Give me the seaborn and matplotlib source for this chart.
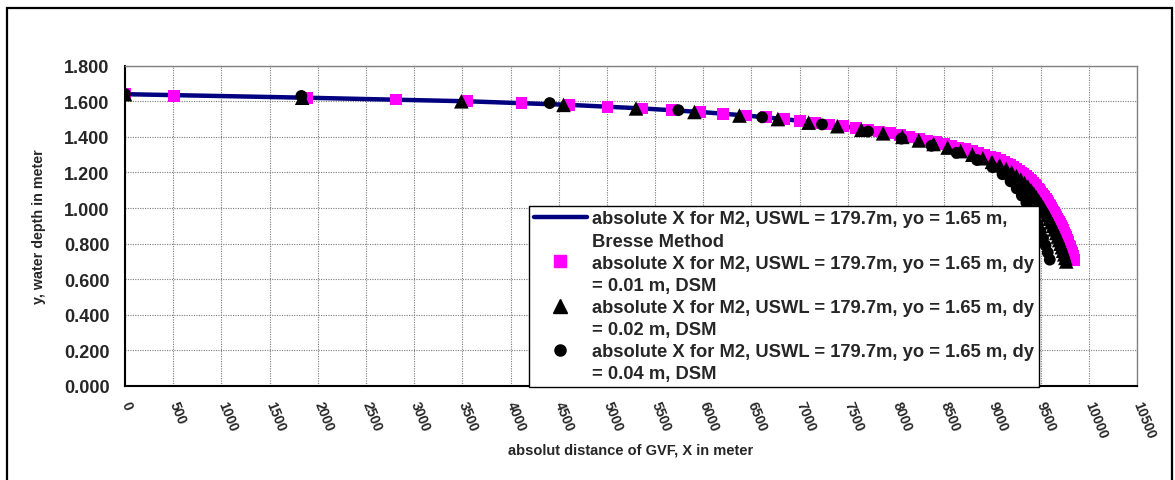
import matplotlib
matplotlib.use("Agg")
import matplotlib.pyplot as plt
import seaborn as sns
from matplotlib.lines import Line2D
from matplotlib.patches import Rectangle

# ---- Bresse method profile (depth y in m, absolute distance X in m) ----
bresse_y = [1.64, 1.62, 1.60, 1.58, 1.56, 1.54, 1.52, 1.50, 1.48, 1.46,
            1.44, 1.42, 1.40, 1.38, 1.36, 1.34, 1.32, 1.30, 1.28, 1.26,
            1.24, 1.22, 1.20, 1.18, 1.16, 1.14, 1.12, 1.10, 1.08, 1.06,
            1.04, 1.02, 1.00, 0.98, 0.96, 0.94, 0.92, 0.90, 0.88, 0.86,
            0.84, 0.82, 0.80, 0.78, 0.76, 0.74, 0.72, 0.71]
bresse_x = [0, 1888, 3552, 4608, 5361, 5970, 6445, 6836, 7162, 7450,
            7706, 7934, 8140, 8327, 8495, 8648, 8789, 8918, 9029, 9116,
            9187, 9247, 9299, 9345, 9386, 9423, 9456, 9485, 9513, 9539,
            9564, 9588, 9610, 9632, 9653, 9673, 9693, 9711, 9729, 9745,
            9761, 9776, 9790, 9804, 9817, 9829, 9841, 9846]

# ---- Direct step method, dy = 0.01 m ----
dsm01_y = [1.64, 1.63, 1.62, 1.61, 1.60, 1.59, 1.58, 1.57, 1.56, 1.55,
           1.54, 1.53, 1.52, 1.51, 1.50, 1.49, 1.48, 1.47, 1.46, 1.45,
           1.44, 1.43, 1.42, 1.41, 1.40, 1.39, 1.38, 1.37, 1.36, 1.35,
           1.34, 1.33, 1.32, 1.31, 1.30, 1.29, 1.28, 1.27, 1.26, 1.25,
           1.24, 1.23, 1.22, 1.21, 1.20, 1.19, 1.18, 1.17, 1.16, 1.15,
           1.14, 1.13, 1.12, 1.11, 1.10, 1.09, 1.08, 1.07, 1.06, 1.05,
           1.04, 1.03, 1.02, 1.01, 1.00, 0.99, 0.98, 0.97, 0.96, 0.95,
           0.94, 0.93, 0.92, 0.91, 0.90, 0.89, 0.88, 0.87, 0.86, 0.85,
           0.84, 0.83, 0.82, 0.81, 0.80, 0.79, 0.78, 0.77, 0.76, 0.75,
           0.74, 0.73, 0.72, 0.71]
dsm01_x = [0, 510, 1888, 2814, 3552, 4113, 4608, 5007, 5361, 5673,
           5970, 6203, 6445, 6650, 6836, 7005, 7162, 7310, 7450, 7582,
           7706, 7823, 7934, 8040, 8140, 8236, 8327, 8413, 8495, 8573,
           8648, 8720, 8789, 8855, 8918, 8977, 9029, 9075, 9116, 9153,
           9187, 9218, 9247, 9274, 9299, 9323, 9345, 9366, 9386, 9405,
           9423, 9440, 9456, 9471, 9485, 9499, 9513, 9526, 9539, 9552,
           9564, 9576, 9588, 9599, 9610, 9621, 9632, 9643, 9653, 9663,
           9673, 9683, 9693, 9702, 9711, 9720, 9729, 9737, 9745, 9753,
           9761, 9769, 9776, 9783, 9790, 9797, 9804, 9811, 9817, 9823,
           9829, 9835, 9841, 9846]

# ---- Direct step method, dy = 0.02 m ----
dsm02_y = [1.64, 1.62, 1.60, 1.58, 1.56, 1.54, 1.52, 1.50, 1.48, 1.46,
           1.44, 1.42, 1.40, 1.38, 1.36, 1.34, 1.32, 1.30, 1.28, 1.26,
           1.24, 1.22, 1.20, 1.18, 1.16, 1.14, 1.12, 1.10, 1.08, 1.06,
           1.04, 1.02, 1.00, 0.98, 0.96, 0.94, 0.92, 0.90, 0.88, 0.86,
           0.84, 0.82, 0.80, 0.78, 0.76, 0.74, 0.72, 0.70]
dsm02_x = [0, 1838, 3490, 4550, 5302, 5908, 6375, 6774, 7093, 7391,
           7640, 7866, 8066, 8236, 8390, 8535, 8670, 8792, 8900, 8995,
           9075, 9143, 9200, 9250, 9294, 9333, 9368, 9400, 9429, 9456,
           9481, 9505, 9528, 9550, 9571, 9591, 9610, 9628, 9645, 9662,
           9678, 9693, 9707, 9720, 9733, 9745, 9756, 9766]

# ---- Direct step method, dy = 0.04 m ----
dsm04_y = [1.64, 1.63, 1.59, 1.55, 1.51, 1.47, 1.43, 1.39, 1.35, 1.31,
           1.27, 1.23, 1.19, 1.15, 1.11, 1.07, 1.03, 0.99, 0.95, 0.91,
           0.87, 0.83, 0.79, 0.75, 0.71]
dsm04_x = [0, 1830, 4407, 5742, 6611, 7232, 7710, 8056, 8368, 8628,
           8840, 9000, 9105, 9188, 9252, 9305, 9352, 9395, 9433, 9467,
           9497, 9525, 9551, 9574, 9595]

x_ticks = [0, 500, 1000, 1500, 2000, 2500, 3000, 3500, 4000, 4500, 5000,
           5500, 6000, 6500, 7000, 7500, 8000, 8500, 9000, 9500, 10000, 10500]
y_ticks = [0.0, 0.2, 0.4, 0.6, 0.8, 1.0, 1.2, 1.4, 1.6, 1.8]

label_head = "absolute X for M2, USWL = 179.7m, yo = 1.65 m,"
legend_lines = [
    label_head, "Bresse Method",
    label_head + " dy", "= 0.01 m, DSM",
    label_head + " dy", "= 0.02 m, DSM",
    label_head + " dy", "= 0.04 m, DSM",
]

NAVY = "#000080"
MAGENTA = "#FF00FF"

sns.set_style("white")
plt.rcParams["font.family"] = ["Liberation Sans", "DejaVu Sans"]
plt.rcParams["font.weight"] = "bold"

W, H = 1175, 481
fig = plt.figure(figsize=(W / 100, H / 100), dpi=100)
fig.patch.set_facecolor("white")
ax = fig.add_axes([125 / W, 1 - 387 / H, (1137 - 125) / W, (387 - 66.7) / H])

sns.lineplot(x=bresse_x, y=bresse_y, sort=False, color=NAVY, linewidth=3.2,
             ax=ax, zorder=2)
sns.scatterplot(x=dsm01_x, y=dsm01_y, marker="s", s=8.5 ** 2, color=MAGENTA,
                edgecolor="none", linewidth=0, ax=ax, zorder=3)
sns.scatterplot(x=dsm02_x, y=dsm02_y, marker="^", s=10.5 ** 2, color="black",
                edgecolor="none", linewidth=0, ax=ax, zorder=4)
sns.scatterplot(x=dsm04_x, y=dsm04_y, marker="o", s=8.5 ** 2, color="black",
                edgecolor="none", linewidth=0, ax=ax, zorder=5)

ax.set_xlim(0, 10500)
ax.set_ylim(0, 1.8)
ax.set_xticks(x_ticks)
ax.set_xticklabels([str(t) for t in x_ticks])
ax.set_yticks(y_ticks)
ax.set_yticklabels([f"{t:.3f}" for t in y_ticks])

ax.grid(True, color="#7a7a7a", linestyle=(0, (1, 1.2)), linewidth=0.8)
ax.set_axisbelow(True)

ax.tick_params(axis="both", direction="out", length=5, width=1, color="black")
ax.tick_params(axis="y", labelsize=13, pad=6)
ax.tick_params(axis="x", labelsize=10, pad=6)
for lbl in ax.get_xticklabels():
    lbl.set_rotation(-68)
    lbl.set_ha("left")
    lbl.set_va("center")
    lbl.set_rotation_mode("anchor")

for side in ("left", "bottom"):
    ax.spines[side].set_color("black")
    ax.spines[side].set_linewidth(1.5)
for side in ("top", "right"):
    ax.spines[side].set_color("#808080")
    ax.spines[side].set_linewidth(1.0)

ax.set_xlabel("absolut distance of GVF, X in meter", fontsize=10.5,
              fontweight="bold")
ax.xaxis.set_label_coords(0.5, -0.175)
ax.set_ylabel("y, water depth in meter", fontsize=10.3, fontweight="bold")
ax.yaxis.set_label_coords(-0.078, 0.5)

blank = Line2D([], [], linestyle="none")
handles = [
    Line2D([], [], color=NAVY, linewidth=3.2), blank,
    Line2D([], [], linestyle="none", marker="s", markersize=8,
           markerfacecolor=MAGENTA, markeredgecolor=MAGENTA), blank,
    Line2D([], [], linestyle="none", marker="^", markersize=10,
           markerfacecolor="black", markeredgecolor="black"), blank,
    Line2D([], [], linestyle="none", marker="o", markersize=8,
           markerfacecolor="black", markeredgecolor="black"), blank,
]
leg = fig.legend(handles, legend_lines, loc="lower left",
                 bbox_to_anchor=(529 / W, 1 - 388 / H), frameon=True,
                 fancybox=False, edgecolor="black", framealpha=1,
                 fontsize=13.2, handlelength=2.9, handletextpad=0.3,
                 borderpad=0.25, labelspacing=0.28, borderaxespad=0)
leg.get_frame().set_linewidth(1.0)

# outer chart frame
fig.add_artist(Rectangle((7 / W, -0.05), (1172 - 7) / W, 1 - 9 / H + 0.05,
                         transform=fig.transFigure, fill=False,
                         edgecolor="black", linewidth=1.6, clip_on=False))

fig.savefig("out.png", dpi=100)
